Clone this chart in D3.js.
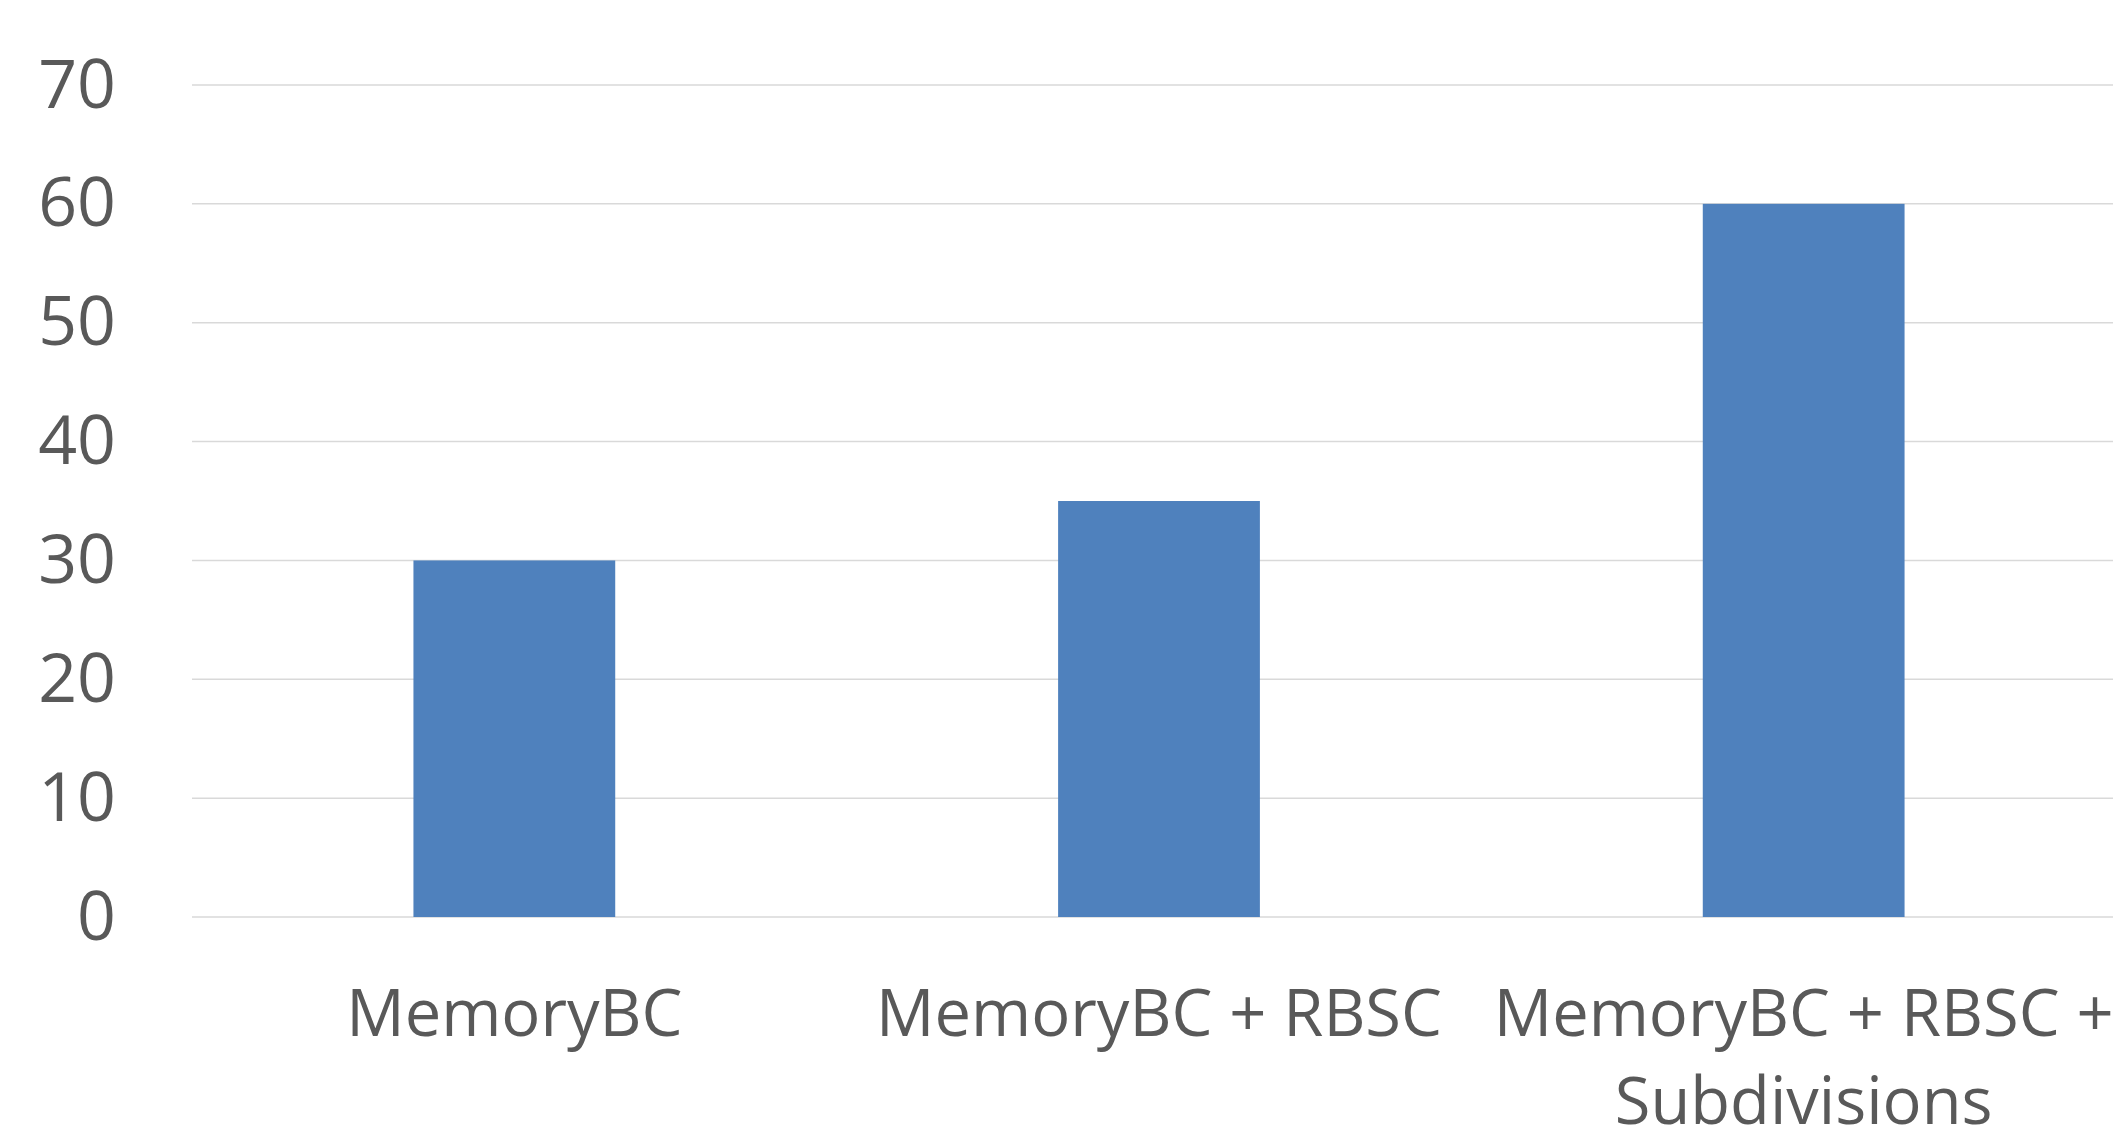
<!DOCTYPE html>
<html><head><meta charset="utf-8">
<script src="https://cdn.jsdelivr.net/npm/d3@7"></script>
<style>html,body{margin:0;padding:0;background:#fff;overflow:hidden}</style>
</head><body>
<svg id="c" width="2113" height="1126"></svg>
<script>
const categories = ["MemoryBC", "MemoryBC + RBSC", "MemoryBC + RBSC + Subdivisions"];
const values = [30, 35, 60];
const yTicks = [0, 10, 20, 30, 40, 50, 60, 70];

(function() {
const W = 2113, H = 1126;
const svg = d3.select("#c");
const pLeft = 192, pRight = 2126, pTop = 85, pBottom = 917;
const x = d3.scaleBand().domain(categories).range([pLeft, pRight]).paddingInner(0.687).paddingOuter(0.3435);
const y = d3.scaleLinear().domain([0, 70]).range([pBottom, pTop]);

// gridlines
svg.append("g").selectAll("line").data(yTicks).join("line")
  .attr("x1", pLeft).attr("x2", W + 20)
  .attr("y1", d => y(d)).attr("y2", d => y(d))
  .attr("stroke", "#d9d9d9").attr("stroke-width", 1.5);

// bars
svg.append("g").selectAll("rect").data(values).join("rect")
  .attr("x", (d, i) => x(categories[i]))
  .attr("width", x.bandwidth())
  .attr("y", d => y(d))
  .attr("height", d => y(0) - y(d))
  .attr("fill", "#4f81bd");

// y axis labels
const yAxis = d3.axisLeft(y).tickValues(yTicks).tickSize(0).tickPadding(0);
const ga = svg.append("g").attr("transform", "translate(116,0)").call(yAxis);
ga.select(".domain").remove();
ga.selectAll("text")
  .attr("font-family", "'Open Sans', sans-serif").attr("font-size", 68)
  .attr("fill", "#595959").attr("dy", null).attr("y", 22);

// x axis labels with wrapping
const xAxis = d3.axisBottom(x).tickSize(0).tickPadding(0);
const gx = svg.append("g").call(xAxis);
gx.select(".domain").remove();
gx.selectAll("text").each(function(d) {
  const t = d3.select(this);
  t.attr("font-family", "'Open Sans', sans-serif").attr("font-size", 65)
   .attr("fill", "#595959").attr("dy", null).attr("y", 1036).attr("text-anchor", "middle");
  const words = d.split(" ");
  t.text(null);
  let line = [];
  let tspan = t.append("tspan").attr("x", 0).attr("y", 1036);
  let lineNo = 0;
  const maxW = x.step() * 0.98;
  for (const w of words) {
    line.push(w);
    tspan.text(line.join(" "));
    if (tspan.node().getComputedTextLength() > maxW && line.length > 1) {
      line.pop();
      tspan.text(line.join(" "));
      line = [w];
      lineNo++;
      tspan = t.append("tspan").attr("x", 0).attr("y", 1036 + lineNo * 88).text(w);
    }
  }
});
})();
</script>
</body></html>
